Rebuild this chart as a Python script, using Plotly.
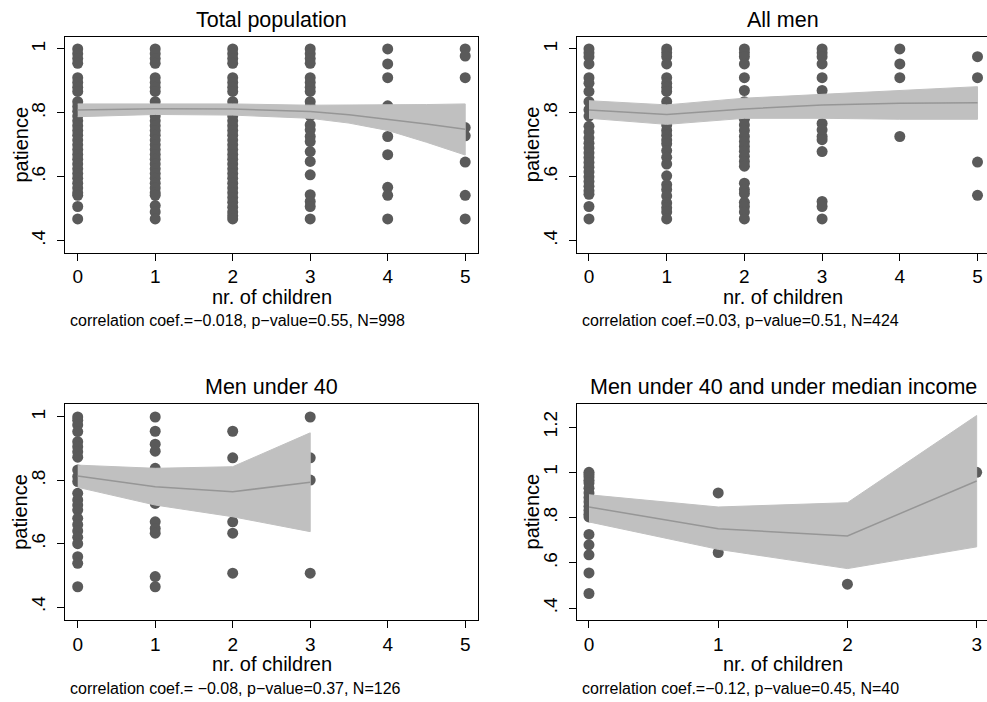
import plotly.graph_objects as go

W, H = 987, 702

# ---------------- data ----------------
titles = ["Total population", "All men", "Men under 40", "Men under 40 and under median income"]
notes = [
    "correlation coef.=\u22120.018, p\u2212value=0.55, N=998",
    "correlation coef.=0.03, p\u2212value=0.51, N=424",
    "correlation coef.= \u22120.08, p\u2212value=0.37, N=126",
    "correlation coef.=\u22120.12, p\u2212value=0.45, N=40",
]

# Panel 1: total population, patience values observed per number of children
p1_c0 = [1.0, 0.985, 0.97, 0.955, 0.91, 0.895, 0.88, 0.867, 0.835, 0.82, 0.805, 0.79, 0.775, 0.76,
         0.745, 0.73, 0.715, 0.70, 0.685, 0.67, 0.655, 0.64, 0.625, 0.61, 0.595, 0.58, 0.565, 0.55,
         0.542, 0.507, 0.468]
p1_c1 = [1.0, 0.985, 0.97, 0.955, 0.91, 0.895, 0.88, 0.867, 0.835, 0.82, 0.805, 0.79, 0.775, 0.76,
         0.745, 0.73, 0.715, 0.70, 0.685, 0.67, 0.655, 0.64, 0.625, 0.61, 0.595, 0.58, 0.565, 0.55,
         0.542, 0.51, 0.49, 0.468]
p1_c2 = [1.0, 0.985, 0.97, 0.955, 0.91, 0.895, 0.88, 0.867, 0.835, 0.82, 0.805, 0.79, 0.775, 0.76,
         0.745, 0.73, 0.715, 0.70, 0.685, 0.67, 0.655, 0.64, 0.625, 0.61, 0.595, 0.58, 0.565, 0.55,
         0.535, 0.52, 0.505, 0.49, 0.478, 0.468]
p1_c3 = [1.0, 0.985, 0.97, 0.955, 0.91, 0.895, 0.88, 0.867, 0.835, 0.82, 0.805, 0.79, 0.762, 0.747,
         0.726, 0.71, 0.679, 0.648, 0.606, 0.544, 0.523, 0.507, 0.468]
p1_c4 = [1.0, 0.953, 0.91, 0.822, 0.726, 0.669, 0.567, 0.542, 0.468]
p1_c5 = [1.0, 0.978, 0.91, 0.754, 0.728, 0.646, 0.542, 0.468]

# Panel 2: all men
p2_c0 = [1.0, 0.988, 0.976, 0.953, 0.91, 0.893, 0.867, 0.835, 0.81, 0.79, 0.758, 0.74, 0.722,
         0.705, 0.69, 0.675, 0.66, 0.645, 0.63, 0.615, 0.6, 0.585, 0.57, 0.556, 0.545, 0.507, 0.468]
p2_c1 = [1.0, 0.988, 0.976, 0.953, 0.91, 0.893, 0.88, 0.867, 0.835, 0.815, 0.762, 0.745, 0.73,
         0.715, 0.703, 0.682, 0.661, 0.64, 0.603, 0.575, 0.56, 0.54, 0.518, 0.503, 0.49, 0.468]
p2_c2 = [1.0, 0.988, 0.976, 0.953, 0.91, 0.87, 0.835, 0.81, 0.78, 0.762, 0.745, 0.726, 0.71,
         0.695, 0.68, 0.664, 0.648, 0.633, 0.58, 0.56, 0.548, 0.52, 0.507, 0.49, 0.468]
p2_c3 = [1.0, 0.988, 0.976, 0.953, 0.91, 0.87, 0.81, 0.767, 0.747, 0.726, 0.716, 0.679, 0.523,
         0.507, 0.468]
p2_c4 = [1.0, 0.953, 0.91, 0.726]
p2_c5 = [0.976, 0.91, 0.646, 0.542]

# Panel 3: men under 40
p3_c0 = [1.0, 0.99, 0.975, 0.954, 0.922, 0.906, 0.89, 0.873, 0.833, 0.812, 0.796, 0.759, 0.738,
         0.722, 0.706, 0.68, 0.66, 0.64, 0.62, 0.60, 0.559, 0.538, 0.464]
p3_c1 = [1.0, 0.955, 0.914, 0.892, 0.838, 0.727, 0.669, 0.648, 0.633, 0.496, 0.464]
p3_c2 = [0.955, 0.871, 0.669, 0.633, 0.507]
p3_c3 = [1.0, 0.871, 0.801, 0.507]

# Panel 4: men under 40 and under median income
p4_c0 = [1.0, 0.99, 0.979, 0.965, 0.953, 0.93, 0.909, 0.889, 0.869, 0.85, 0.832, 0.815, 0.803,
         0.726, 0.68, 0.636, 0.556, 0.465]
p4_c1 = [0.909, 0.646]
p4_c2 = [0.506]
p4_c3 = [1.0]

# Fitted lines with confidence bands
p1_fx = [0, 1, 2, 3, 3.5, 4, 4.5, 5]
p1_fit = [0.809, 0.813, 0.812, 0.804, 0.794, 0.780, 0.765, 0.749]
p1_hi = [0.828, 0.829, 0.828, 0.824, 0.824, 0.825, 0.826, 0.828]
p1_lo = [0.788, 0.795, 0.793, 0.783, 0.768, 0.745, 0.708, 0.668]

p2_fx = [0, 1, 2, 3, 4, 5]
p2_fit = [0.809, 0.795, 0.812, 0.825, 0.830, 0.832]
p2_hi = [0.838, 0.825, 0.846, 0.858, 0.872, 0.882]
p2_lo = [0.783, 0.764, 0.783, 0.783, 0.780, 0.780]

p3_fx = [0, 1, 2, 3]
p3_fit = [0.814, 0.780, 0.764, 0.794]
p3_hi = [0.848, 0.838, 0.843, 0.950]
p3_lo = [0.778, 0.722, 0.685, 0.638]

p4_fx = [0, 1, 2, 3]
p4_fit = [0.847, 0.751, 0.719, 0.962]
p4_hi = [0.901, 0.847, 0.866, 1.251]
p4_lo = [0.781, 0.660, 0.575, 0.671]

x_ticks_a = [0, 1, 2, 3, 4, 5]
x_ticks_b = [0, 1, 2, 3]
y_ticks_a = [0.4, 0.6, 0.8, 1.0]
y_labels_a = [".4", ".6", ".8", "1"]
y_ticks_b = [0.4, 0.6, 0.8, 1.0, 1.2]
y_labels_b = [".4", ".6", ".8", "1", "1.2"]

panels = [
    dict(cols=[p1_c0, p1_c1, p1_c2, p1_c3, p1_c4, p1_c5], fx=p1_fx, fit=p1_fit, hi=p1_hi, lo=p1_lo),
    dict(cols=[p2_c0, p2_c1, p2_c2, p2_c3, p2_c4, p2_c5], fx=p2_fx, fit=p2_fit, hi=p2_hi, lo=p2_lo),
    dict(cols=[p3_c0, p3_c1, p3_c2, p3_c3], fx=p3_fx, fit=p3_fit, hi=p3_hi, lo=p3_lo),
    dict(cols=[p4_c0, p4_c1, p4_c2, p4_c3], fx=p4_fx, fit=p4_fit, hi=p4_hi, lo=p4_lo),
]

# ---------------- layout geometry (pixels) ----------------
boxes = [(65, 478.3, 36.5, 252.5), (576.7, 987, 36.5, 252.5),
         (65, 478.3, 403.5, 620), (576.7, 987, 403.5, 620)]
xranges = [[-0.164, 5.169], [-0.158, 5.122], [-0.164, 5.169], [-0.095, 3.08]]
yranges = [[0.363, 1.039], [0.363, 1.039], [0.359, 1.0426], [0.348, 1.304]]
xticks = [x_ticks_a, x_ticks_a, x_ticks_a, x_ticks_b]
yticks = [(y_ticks_a, y_labels_a), (y_ticks_a, y_labels_a), (y_ticks_a, y_labels_a), (y_ticks_b, y_labels_b)]
center_x = [271.6, 783.3, 271.6, 783.3]

FONT = "Liberation Sans, Arial, sans-serif"
MARK = "#5a5a5a"
BAND = "#c0c0c0"
LINE = "#969696"

fig = go.Figure()
layout = dict(
    width=W, height=H, margin=dict(l=0, r=0, t=0, b=0),
    paper_bgcolor="white", plot_bgcolor="white", showlegend=False,
    font=dict(family=FONT, color="black"),
)
annotations = []

def px(x):
    return x / W

def py(y):
    return 1 - y / H

for i, p in enumerate(panels):
    n = "" if i == 0 else str(i + 1)
    xa, ya = "x" + n, "y" + n
    xs, ys = [], []
    for k, col in enumerate(p["cols"]):
        xs += [k] * len(col)
        ys += col
    fig.add_trace(go.Scatter(x=xs, y=ys, mode="markers", xaxis=xa, yaxis=ya,
                             marker=dict(size=11, color=MARK, line=dict(width=0))))
    bx = list(p["fx"]) + list(p["fx"])[::-1]
    by = list(p["hi"]) + list(p["lo"])[::-1]
    fig.add_trace(go.Scatter(x=bx, y=by, mode="lines", fill="toself", fillcolor=BAND,
                             line=dict(color=BAND, width=1), xaxis=xa, yaxis=ya))
    fig.add_trace(go.Scatter(x=p["fx"], y=p["fit"], mode="lines",
                             line=dict(color=LINE, width=1.5), xaxis=xa, yaxis=ya))

    l, r, t, b = boxes[i]
    right_open = r >= W
    layout["xaxis" + n] = dict(
        domain=[px(l), min(1, px(r))], range=xranges[i], anchor=ya,
        tickvals=xticks[i], ticktext=[str(v) for v in xticks[i]],
        ticks="outside", ticklen=7, tickwidth=1, tickcolor="black",
        showline=True, linecolor="black", linewidth=1, mirror=True,
        showgrid=False, zeroline=False, tickfont=dict(size=19, family=FONT, color="black"),
    )
    layout["yaxis" + n] = dict(
        domain=[py(b), py(t)], range=yranges[i], anchor=xa,
        tickvals=yticks[i][0], ticktext=yticks[i][1], tickangle=-90,
        ticks="outside", ticklen=7, tickwidth=1, tickcolor="black", ticklabelstandoff=4,
        showline=True, linecolor="black", linewidth=1, mirror=not right_open,
        showgrid=False, zeroline=False, tickfont=dict(size=19, family=FONT, color="black"),
    )
    cx = center_x[i]
    annotations.append(dict(text=titles[i], x=px(cx), y=py(t - 17), xref="paper", yref="paper",
                            xanchor="center", yanchor="middle", showarrow=False,
                            font=dict(size=21.5, family=FONT, color="black")))
    annotations.append(dict(text="nr. of children", x=px(cx), y=py(b + 44), xref="paper", yref="paper",
                            xanchor="center", yanchor="middle", showarrow=False,
                            font=dict(size=20, family=FONT, color="black")))
    annotations.append(dict(text="patience", x=px(l - 45), y=py((t + b) / 2), xref="paper", yref="paper",
                            xanchor="center", yanchor="middle", showarrow=False, textangle=-90,
                            font=dict(size=20, family=FONT, color="black")))
    annotations.append(dict(text=notes[i], x=px(l + 3), y=py(b + 68), xref="paper", yref="paper",
                            xanchor="left", yanchor="middle", showarrow=False,
                            font=dict(size=16, family=FONT, color="black")))

layout["annotations"] = annotations
fig.update_layout(**layout)
fig.write_html("out.html")
